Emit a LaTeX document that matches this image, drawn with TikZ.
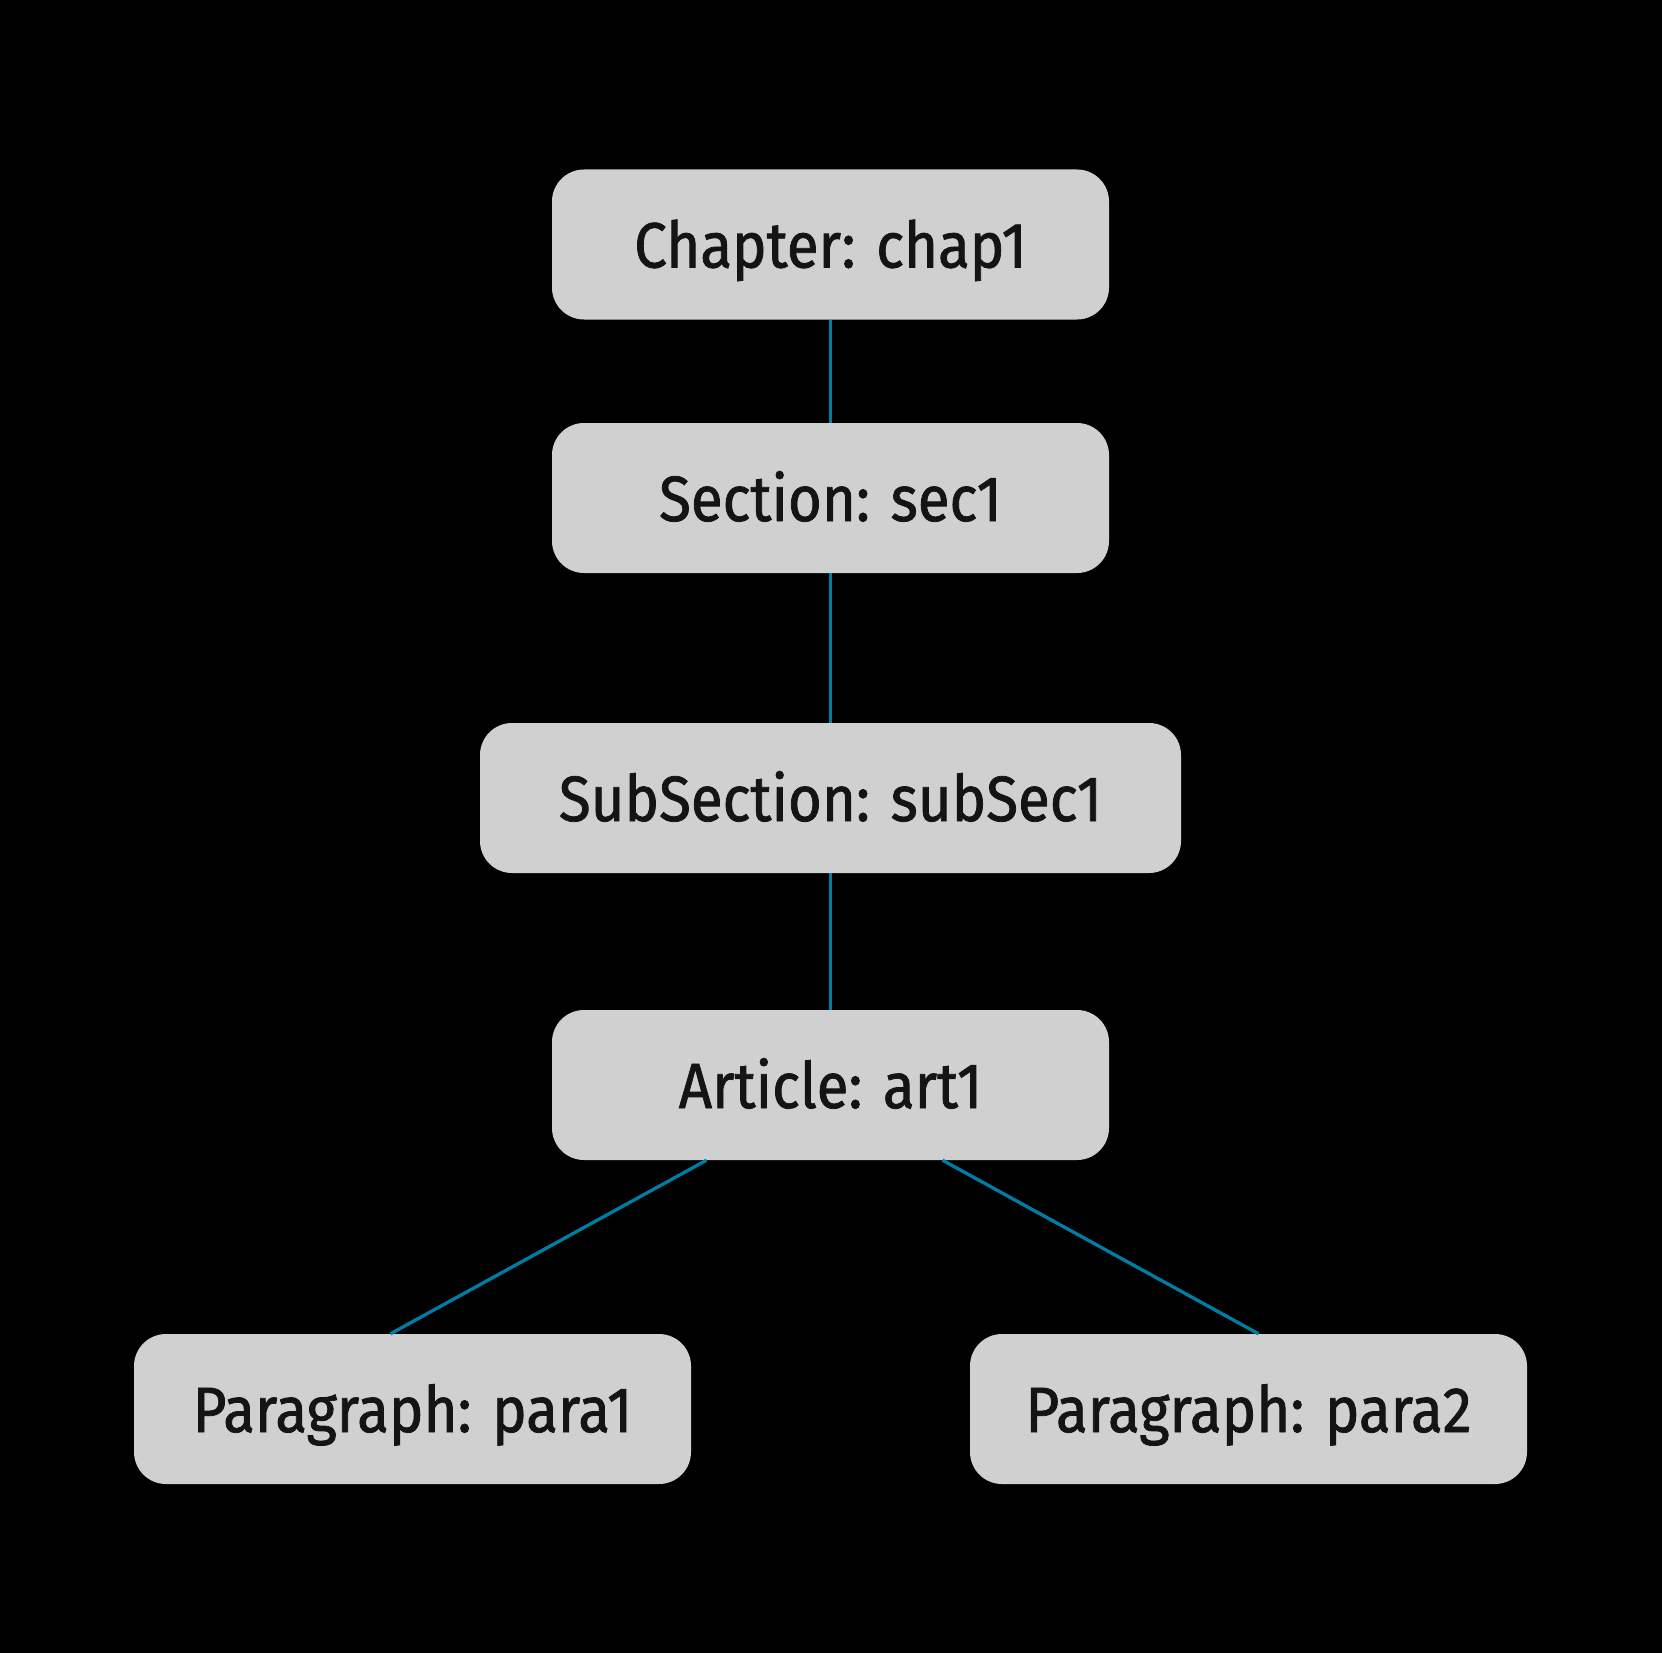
\documentclass[tikz,border=0pt]{standalone}
\usepackage{fontspec}
\setmainfont[FakeStretch=0.91,FakeBold=1.2]{Fira Sans}
\usepackage[]{tikz}

\definecolor{boxgray}{RGB}{208,208,208}
\definecolor{linkblue}{RGB}{0,125,165}
\definecolor{inkblack}{RGB}{20,20,20}

\tikzset{
  elem/.style={fill=boxgray, rounded corners=32pt, minimum width=557pt, minimum height=150pt,
    inner sep=0pt, text=inkblack, font=\fontsize{64}{70}\selectfont, text height=46pt, text depth=0pt},
  link/.style={draw=linkblue, line width=3.3pt}
}

\begin{document}
\begin{tikzpicture}[x=1pt,y=-1pt]
                      \fill[black] (0,0) rectangle (1662,1653);
                      \useasboundingbox (0,0) rectangle (1662,1653);
                      \node[elem] (chap) at (830.5,244.5) {Chapter: chap1};
                      \node[elem] (sec) at (830.5,498) {Section: sec1};
                      \node[elem, minimum width=701pt] (subsec) at (830.5,798) {SubSection: subSec1};
                      \node[elem] (art) at (830.5,1085) {Article: art1};
                      \node[elem] (para1) at (412.5,1409) {Paragraph: para1};
                      \node[elem] (para2) at (1248.5,1409) {Paragraph: para2};
                      \draw[link] (chap) -- (sec);
                      \draw[link] (sec) -- (subsec);
                      \draw[link] (subsec) -- (art);
                      \draw[link] ([xshift=-124pt]art.south) -- ([xshift=-22pt]para1.north);
                      \draw[link] ([xshift=112pt]art.south) -- ([xshift=10pt]para2.north);
                    \end{tikzpicture}
\end{document}
